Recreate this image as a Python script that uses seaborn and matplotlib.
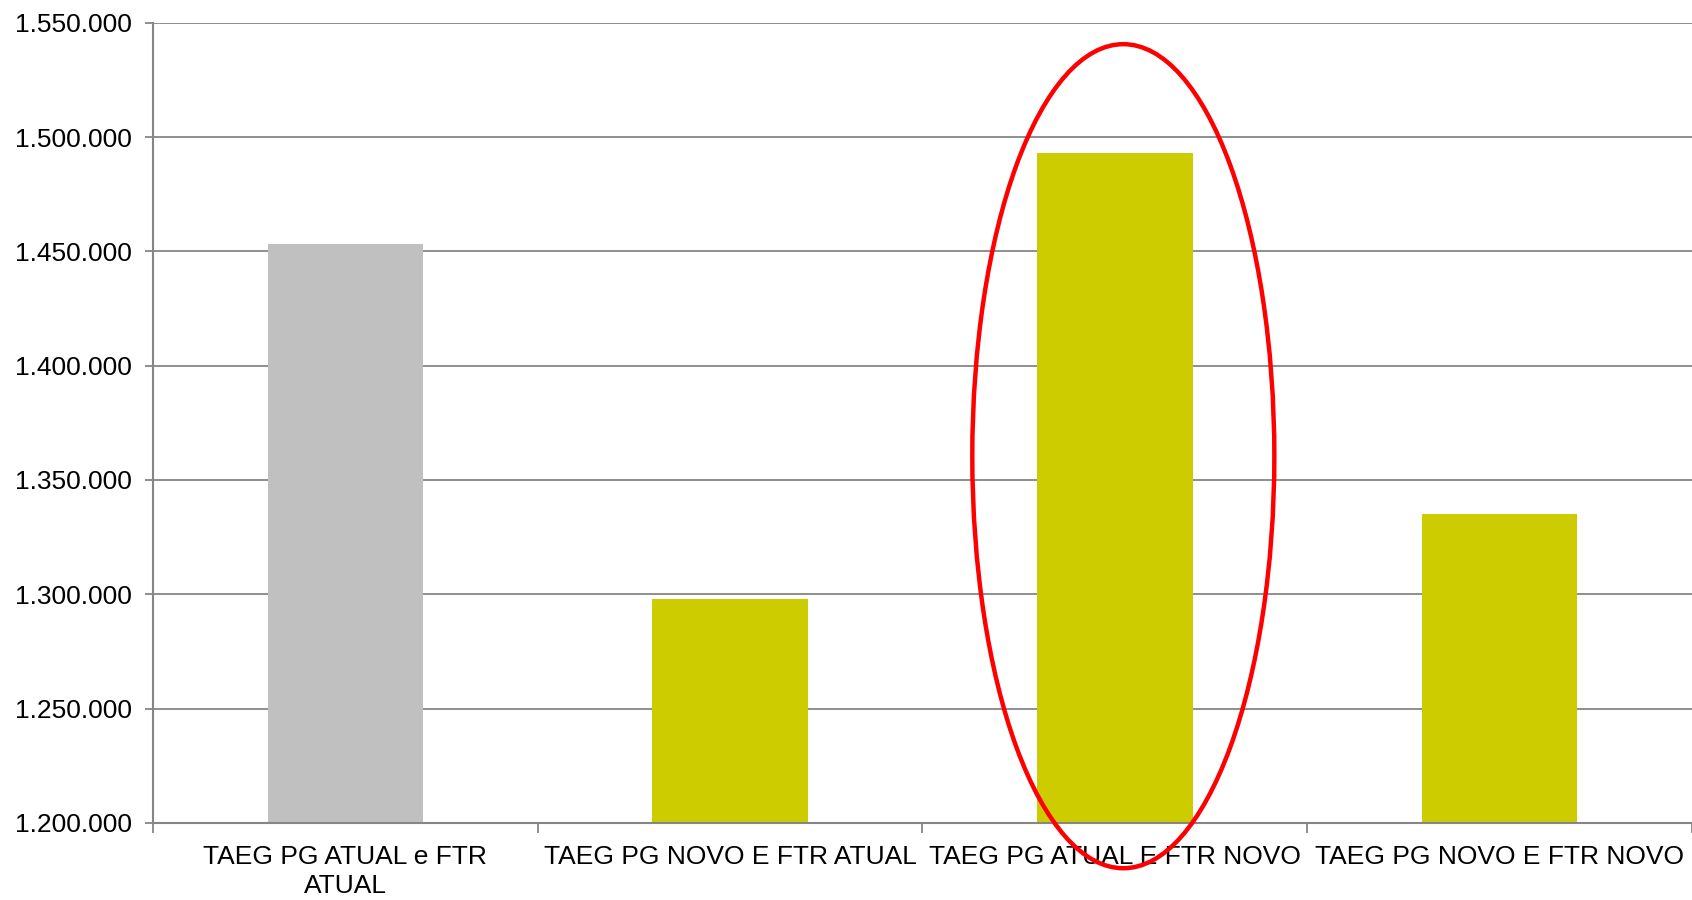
import matplotlib
matplotlib.use("Agg")
import matplotlib.pyplot as plt
import seaborn as sns
from matplotlib.patches import Ellipse
from matplotlib.ticker import FuncFormatter

categories = ["TAEG PG ATUAL e FTR\nATUAL", "TAEG PG NOVO E FTR ATUAL",
              "TAEG PG ATUAL E FTR NOVO", "TAEG PG NOVO E FTR NOVO"]
values = [1453000, 1298000, 1493000, 1335000]
colors = ["#C0C0C0", "#CCCC00", "#CCCC00", "#CCCC00"]
y_ticks = [1200000, 1250000, 1300000, 1350000, 1400000, 1450000, 1500000, 1550000]

sns.set_theme(style="white")
plt.rcParams['font.family'] = ['Liberation Sans', 'DejaVu Sans']

fig = plt.figure(figsize=(16.92, 9.0), dpi=100)
ax = fig.add_axes([0.0904, 0.0856, 0.9096, 0.8892])

sns.barplot(x=categories, y=values, hue=categories, palette=colors, legend=False,
            width=0.404, ax=ax, saturation=1, linewidth=0, edgecolor="none")

ax.set_ylim(1200000, 1550000)
ax.set_xlim(-0.5, 3.5)
ax.set_yticks(y_ticks)
ax.yaxis.set_major_formatter(FuncFormatter(lambda v, p: f"{int(v):,}".replace(",", ".")))
ax.yaxis.grid(True, color="#868686", linewidth=1.3)
ax.set_axisbelow(True)

for s in ["top", "right"]:
    ax.spines[s].set_visible(False)
for s in ["left", "bottom"]:
    ax.spines[s].set_color("#868686")
    ax.spines[s].set_linewidth(1.5)

ax.tick_params(axis="y", which="major", left=True, length=6, width=1.3, color="#868686",
               labelsize=19, labelcolor="black", pad=9)

# x ticks at category boundaries, labels at centers
ax.set_xticks([-0.5, 0.5, 1.5, 2.5, 3.5])
ax.set_xticklabels([])
ax.set_xticks([0, 1, 2, 3], minor=True)
ax.set_xticklabels(categories, minor=True, linespacing=1.25)
ax.tick_params(axis="x", which="minor", bottom=False, length=0, labelsize=19,
               labelcolor="black", pad=16)
ax.tick_params(axis="x", which="major", bottom=True, length=7, width=1.3, color="#868686")
ax.set_xlabel("")
ax.set_ylabel("")

ell = Ellipse((2.022, 1360400), width=0.785, height=360400, fill=False,
              edgecolor="#FF0000", linewidth=3.2, clip_on=False, zorder=5)
ax.add_patch(ell)

fig.savefig("out.png", dpi=100)
